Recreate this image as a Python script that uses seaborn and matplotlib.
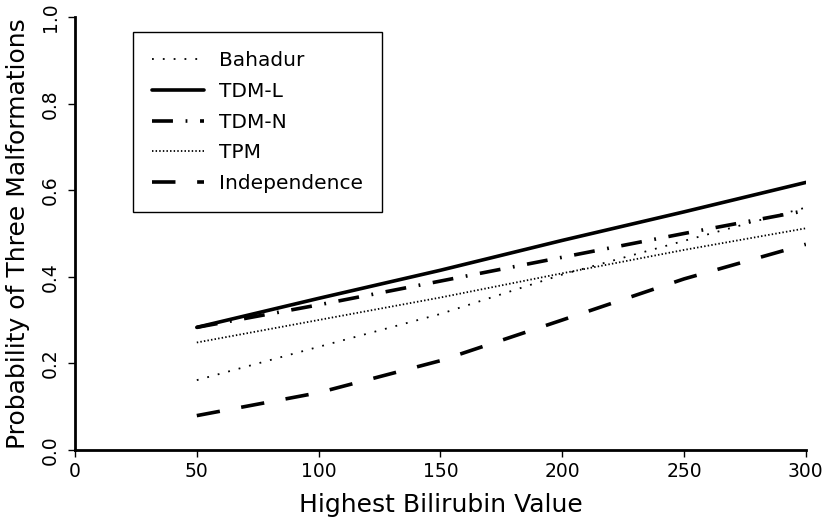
import matplotlib
matplotlib.use("Agg")
import matplotlib.pyplot as plt
import seaborn as sns

# Data
bilirubin = [50, 100, 150, 200, 250, 300]
bahadur = [0.161, 0.238, 0.314, 0.405, 0.483, 0.560]
tdm_l = [0.283, 0.350, 0.415, 0.484, 0.550, 0.618]
tdm_n = [0.283, 0.335, 0.390, 0.445, 0.500, 0.553]
tpm = [0.248, 0.300, 0.352, 0.408, 0.462, 0.512]
independence = [0.079, 0.132, 0.206, 0.300, 0.395, 0.475]

series_names = ["Bahadur", "TDM-L", "TDM-N", "TPM", "Independence"]
series_values = [bahadur, tdm_l, tdm_n, tpm, independence]
line_styles = [(0, (1, 5)), "-", (0, (5.8, 3.5, 0.5, 3.5)), (0, (0.8, 1.2)), (0, (6.5, 6))]
line_widths = [1.3, 2.6, 2.6, 1.3, 2.6]

sns.set_style("ticks")
plt.rcParams["font.family"] = ["DejaVu Sans"]
plt.rcParams["text.color"] = "black"
plt.rcParams["axes.labelcolor"] = "black"

fig = plt.figure(figsize=(8.24, 5.2), dpi=100)
ax = fig.add_axes([0.091, 0.135, 0.887, 0.832])

for name, values, ls, lw in zip(series_names, series_values, line_styles, line_widths):
    sns.lineplot(x=bilirubin, y=values, ax=ax, color="black", linestyle=ls,
                 linewidth=lw, label=name)

ax.set_xlim(0, 300)
ax.set_ylim(0, 1.0)
ax.set_xticks([0, 50, 100, 150, 200, 250, 300])
ax.set_yticks([0.0, 0.2, 0.4, 0.6, 0.8, 1.0])
ax.set_yticklabels(["0.0", "0.2", "0.4", "0.6", "0.8", "1.0"], rotation=90, va="center")
ax.tick_params(axis="both", labelsize=13.5, length=5, width=1, colors="black", direction="out")
ax.tick_params(axis="y", pad=6)
ax.set_xlabel("Highest Bilirubin Value", fontsize=18, labelpad=9, color="black")
ax.set_ylabel("Probability of Three Malformations", fontsize=18, labelpad=8, color="black")
for side in ["top", "right"]:
    ax.spines[side].set_visible(False)
for side in ["left", "bottom"]:
    ax.spines[side].set_linewidth(2)
    ax.spines[side].set_color("black")

leg = ax.legend(loc="upper left", bbox_to_anchor=(0.079, 0.965), borderaxespad=0,
                fontsize=14.5, handlelength=2.6, handletextpad=0.75, labelspacing=0.58,
                borderpad=0.95, fancybox=False, frameon=True, edgecolor="black",
                framealpha=1, labelcolor="black")
leg.get_frame().set_linewidth(1)

plt.savefig("out.png", dpi=100)
